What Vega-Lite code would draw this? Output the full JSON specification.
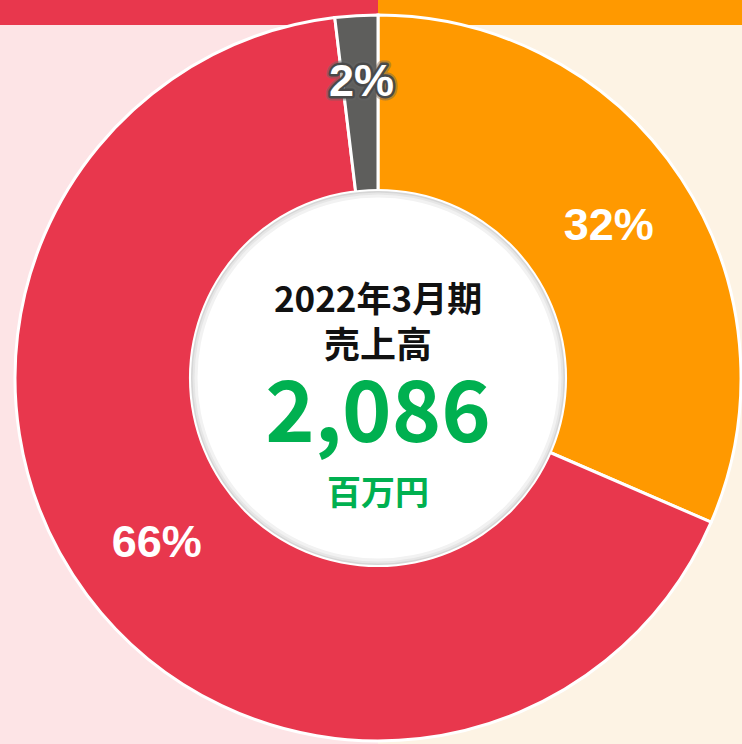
{
  "$schema": "https://vega.github.io/schema/vega-lite/v6.json",
  "width": 728,
  "height": 732,
  "autosize": {"type": "none"},
  "padding": {"left": 14, "top": 12, "right": 0, "bottom": 0},
  "background": "#fdf3e4",
  "view": {"stroke": null},
  "datasets": {
    "share": [
      {"segment": "事業A", "value": 31.5, "label": "32%", "rank": 1},
      {"segment": "事業B", "value": 66.6, "label": "66%", "rank": 2},
      {"segment": "その他", "value": 1.9, "label": "2%", "rank": 3}
    ],
    "center": [
      {"role": "period", "text": "2022年3月期"},
      {"role": "title", "text": "売上高"},
      {"role": "total", "text": "2,086"},
      {"role": "unit", "text": "百万円"}
    ],
    "deco": [{"id": 1}]
  },
  "layer": [
    {
      "data": {"name": "deco"},
      "mark": {"type": "rect", "x": -20, "x2": {"expr": "width/2"}, "y": -20, "y2": {"expr": "height+20"}, "fill": "#fde4e6"},
      "encoding": {}
    },
    {
      "data": {"name": "deco"},
      "mark": {"type": "rect", "x": -20, "x2": {"expr": "width/2"}, "y": -20, "y2": 13, "fill": "#e8374d"},
      "encoding": {}
    },
    {
      "data": {"name": "deco"},
      "mark": {"type": "rect", "x": {"expr": "width/2"}, "x2": {"expr": "width+20"}, "y": -20, "y2": 13, "fill": "#ff9900"},
      "encoding": {}
    },
    {
      "data": {"name": "share"},
      "mark": {"type": "arc", "outerRadius": 363, "stroke": "white", "strokeWidth": 3},
      "encoding": {
        "theta": {"field": "value", "type": "quantitative", "stack": true},
        "order": {"field": "rank", "type": "quantitative"},
        "color": {
          "field": "segment",
          "type": "nominal",
          "scale": {"domain": ["事業A", "事業B", "その他"], "range": ["#ff9900", "#e8374d", "#5e5e5c"]},
          "legend": null
        }
      }
    },
    {
      "data": {"name": "deco"},
      "mark": {"type": "arc", "theta": 0, "theta2": 6.2832, "outerRadius": 189, "innerRadius": 0, "fill": "white"},
      "encoding": {}
    },
    {
      "data": {"name": "deco"},
      "mark": {"type": "arc", "theta": 0, "theta2": 6.2832, "outerRadius": 187, "innerRadius": 0, "fill": "#d6d6d6"},
      "encoding": {}
    },
    {
      "data": {"name": "deco"},
      "mark": {"type": "arc", "theta": 0, "theta2": 6.2832, "outerRadius": 185.5, "innerRadius": 0, "fill": "#e6e6e6"},
      "encoding": {}
    },
    {
      "data": {"name": "deco"},
      "mark": {"type": "arc", "theta": 0, "theta2": 6.2832, "outerRadius": 183.5, "innerRadius": 0, "fill": "#f2f2f2"},
      "encoding": {}
    },
    {
      "data": {"name": "deco"},
      "mark": {"type": "arc", "theta": 0, "theta2": 6.2832, "outerRadius": 180.5, "innerRadius": 0, "fill": "#ffffff"},
      "encoding": {}
    },
    {
      "data": {"name": "share"},
      "mark": {"type": "text", "font": "Liberation Sans", "fontSize": 45, "fontWeight": "bold", "fill": "#666666", "stroke": "#666666", "strokeWidth": 9, "strokeJoin": "round", "baseline": "middle", "dy": -20},
      "encoding": {
        "theta": {"field": "value", "type": "quantitative", "stack": true},
        "order": {"field": "rank", "type": "quantitative"},
        "radius": {"value": 276},
        "opacity": {"condition": {"test": "datum.rank === 3", "value": 0.45}, "value": 0},
        "text": {"field": "label"}
      }
    },
    {
      "data": {"name": "share"},
      "mark": {"type": "text", "font": "Liberation Sans", "fontSize": 45, "fontWeight": "bold", "fill": "#4a4a4a", "stroke": "#4a4a4a", "strokeWidth": 5, "strokeJoin": "round", "baseline": "middle", "dy": -20},
      "encoding": {
        "theta": {"field": "value", "type": "quantitative", "stack": true},
        "order": {"field": "rank", "type": "quantitative"},
        "radius": {"value": 276},
        "opacity": {"condition": {"test": "datum.rank === 3", "value": 1}, "value": 0},
        "text": {"field": "label"}
      }
    },
    {
      "data": {"name": "share"},
      "mark": {"type": "text", "font": "Liberation Sans", "fontSize": 45, "fontWeight": "bold", "fill": "white", "baseline": "middle", "dy": -20},
      "encoding": {
        "theta": {"field": "value", "type": "quantitative", "stack": true},
        "order": {"field": "rank", "type": "quantitative"},
        "radius": {"value": 276},
        "opacity": {"condition": {"test": "datum.rank === 3", "value": 1}, "value": 0},
        "text": {"field": "label"}
      }
    },
    {
      "data": {"name": "share"},
      "mark": {"type": "text", "font": "Liberation Sans", "fontSize": 45, "fontWeight": "bold", "fill": "white", "baseline": "middle"},
      "encoding": {
        "theta": {"field": "value", "type": "quantitative", "stack": true},
        "order": {"field": "rank", "type": "quantitative"},
        "radius": {"value": 276},
        "opacity": {"condition": {"test": "datum.rank < 3", "value": 1}, "value": 0},
        "text": {"field": "label"}
      }
    },
    {
      "data": {"name": "center"},
      "transform": [{"filter": "datum.role === 'period'"}],
      "mark": {"type": "text", "font": "Noto Sans CJK JP", "fontSize": 35, "fontWeight": "bold", "fill": "#111111", "baseline": "middle", "dy": -77},
      "encoding": {"text": {"field": "text"}}
    },
    {
      "data": {"name": "center"},
      "transform": [{"filter": "datum.role === 'title'"}],
      "mark": {"type": "text", "font": "Noto Sans CJK JP", "fontSize": 36, "fontWeight": "bold", "fill": "#111111", "baseline": "middle", "dy": -31},
      "encoding": {"text": {"field": "text"}}
    },
    {
      "data": {"name": "center"},
      "transform": [{"filter": "datum.role === 'total'"}],
      "mark": {"type": "text", "font": "Noto Sans CJK JP", "fontSize": 84, "fontWeight": "bold", "fill": "#00b050", "baseline": "middle", "dy": 39},
      "encoding": {"text": {"field": "text"}}
    },
    {
      "data": {"name": "center"},
      "transform": [{"filter": "datum.role === 'unit'"}],
      "mark": {"type": "text", "font": "Noto Sans CJK JP", "fontSize": 34, "fontWeight": "bold", "fill": "#00b050", "baseline": "middle", "dy": 117},
      "encoding": {"text": {"field": "text"}}
    }
  ]
}
